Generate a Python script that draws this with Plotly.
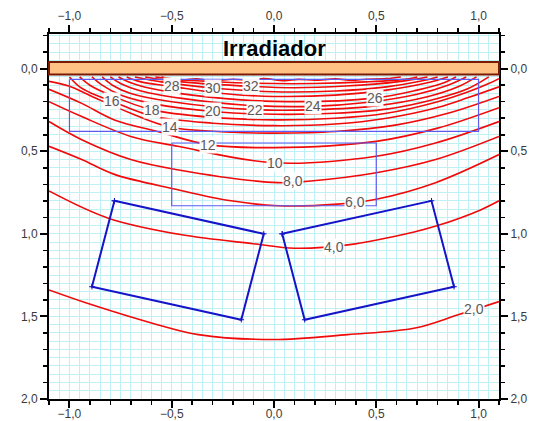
import plotly.graph_objects as go

# ---------------- data ----------------
levels = [2, 4, 6, 8, 10, 12, 14, 16, 18, 20, 22, 24, 26, 28, 30, 32, 34, 36]

contour_x = {
    2:  [-1.1, -0.89, -0.57, -0.37, 0.0, 0.36, 0.69, 0.9, 1.1],
    4:  [-1.1, -0.81, -0.45, -0.1, 0.1, 0.36, 0.68, 0.8, 1.01, 1.1],
    6:  [-1.1, -0.94, -0.78, -0.48, -0.21, 0.02, 0.31, 0.5, 0.79, 1.1],
    8:  [-1.1, -0.94, -0.70, -0.48, 0.02, 0.18, 0.5, 0.79, 1.1],
    10: [-1.1, -0.94, -0.70, -0.47, 0.0, 0.5, 0.79, 1.1],
    12: [-1.1, -0.94, -0.78, -0.57, -0.32, 0.0, 0.5, 0.8, 1.1],
    14: [-1.1, -1.0, -0.89, -0.70, -0.51, -0.2, 0.0, 0.3, 0.6, 0.85, 1.1],
    16: [-1.0, -0.95, -0.89, -0.79, -0.6, -0.3, 0.0, 0.3, 0.55, 0.8, 0.95, 1.1],
    18: [-0.95, -0.9, -0.8, -0.6, -0.3, 0.0, 0.3, 0.55, 0.8, 0.95, 1.05, 1.1],
    20: [-0.89, -0.84, -0.75, -0.6, -0.3, 0.0, 0.3, 0.55, 0.8, 0.95, 1.05],
    22: [-0.84, -0.79, -0.7, -0.5, -0.09, 0.2, 0.5, 0.75, 0.9, 0.99],
    24: [-0.80, -0.75, -0.65, -0.45, -0.15, 0.19, 0.45, 0.7, 0.85, 0.94],
    26: [-0.76, -0.7, -0.6, -0.4, 0.0, 0.49, 0.7, 0.82, 0.89],
    28: [-0.72, -0.65, -0.5, -0.25, 0.0, 0.3, 0.55, 0.75, 0.85],
    30: [-0.68, -0.55, -0.3, 0.0, 0.3, 0.55, 0.72, 0.80],
    32: [-0.63, -0.45, -0.11, 0.1, 0.35, 0.6, 0.75],
    34: [-0.58, -0.4, -0.1, 0.2, 0.45, 0.65, 0.70],
    36: [-0.55, -0.45, -0.38, -0.3, -0.2, -0.12, -0.05, 0.05, 0.12, 0.2, 0.3, 0.38, 0.45, 0.55, 0.62],
}
contour_y = {
    2:  [1.34, 1.43, 1.55, 1.61, 1.64, 1.61, 1.57, 1.49, 1.41],
    4:  [0.74, 0.905, 1.006, 1.06, 1.087, 1.067, 0.99, 0.95, 0.855, 0.80],
    6:  [0.47, 0.55, 0.64, 0.73, 0.80, 0.83, 0.82, 0.79, 0.69, 0.52],
    8:  [0.32, 0.43, 0.55, 0.61, 0.69, 0.68, 0.63, 0.55, 0.41],
    10: [0.20, 0.29, 0.41, 0.47, 0.57, 0.53, 0.45, 0.32],
    12: [0.125, 0.21, 0.31, 0.38, 0.46, 0.478, 0.44, 0.36, 0.236],
    14: [0.077, 0.107, 0.168, 0.27, 0.353, 0.385, 0.39, 0.38, 0.34, 0.27, 0.168],
    16: [0.05, 0.11, 0.15, 0.198, 0.285, 0.33, 0.345, 0.335, 0.30, 0.235, 0.175, 0.11],
    18: [0.05, 0.10, 0.16, 0.248, 0.295, 0.31, 0.30, 0.27, 0.20, 0.14, 0.09, 0.06],
    20: [0.05, 0.10, 0.16, 0.21, 0.259, 0.276, 0.27, 0.245, 0.18, 0.12, 0.05],
    22: [0.05, 0.10, 0.15, 0.20, 0.248, 0.248, 0.225, 0.17, 0.11, 0.05],
    24: [0.05, 0.09, 0.135, 0.18, 0.22, 0.228, 0.205, 0.155, 0.10, 0.05],
    26: [0.05, 0.085, 0.12, 0.16, 0.198, 0.178, 0.13, 0.09, 0.05],
    28: [0.05, 0.08, 0.107, 0.15, 0.168, 0.16, 0.13, 0.085, 0.05],
    30: [0.05, 0.08, 0.117, 0.14, 0.135, 0.11, 0.075, 0.05],
    32: [0.05, 0.08, 0.107, 0.115, 0.105, 0.08, 0.05],
    34: [0.05, 0.072, 0.088, 0.09, 0.08, 0.063, 0.05],
    36: [0.05, 0.068, 0.062, 0.072, 0.064, 0.07, 0.06, 0.073, 0.065, 0.07, 0.062, 0.07, 0.064, 0.06, 0.05],
}

# contour labels (level, position of the label)
label_levels = [2, 4, 6, 8, 10, 12, 14, 16, 18, 20, 22, 24, 26, 28, 30, 32]
label_x = [0.976, 0.293, 0.395, 0.094, 0.005, -0.322, -0.509, -0.794, -0.598, -0.298, -0.094, 0.192, 0.493, -0.501, -0.298, -0.111]
label_y = [1.455, 1.08, 0.81, 0.683, 0.572, 0.46, 0.353, 0.198, 0.248, 0.259, 0.248, 0.228, 0.178, 0.107, 0.117, 0.107]

# measurement regions (thin blue rectangles)
rect_a_x = [-1.0, 1.0, 1.0, -1.0, -1.0]
rect_a_y = [0.065, 0.065, 0.38, 0.38, 0.065]
rect_b_x = [-0.5, 0.5, 0.5, -0.5, -0.5]
rect_b_y = [0.45, 0.45, 0.83, 0.83, 0.45]

# tilted boxes (dark blue)
box_left_x = [-0.78, -0.05, -0.16, -0.89, -0.78]
box_left_y = [0.80, 1.00, 1.52, 1.32, 0.80]
box_right_x = [0.04, 0.77, 0.88, 0.15, 0.04]
box_right_y = [1.00, 0.80, 1.32, 1.52, 1.00]

x_ticks = [-1.0, -0.5, 0.0, 0.5, 1.0]
y_ticks = [0.0, 0.5, 1.0, 1.5, 2.0]
x_range = [-1.1, 1.1]
y_range = [2.0, -0.21]

# ---------------- figure ----------------
RED = "#f00a0a"
fig = go.Figure()

for lv in levels:
    fig.add_trace(go.Scatter(
        x=contour_x[lv], y=contour_y[lv], mode="lines",
        line=dict(color=RED, width=1.6, shape="spline", smoothing=1.0),
        hoverinfo="skip", showlegend=False))

for xs, ys in [(rect_a_x, rect_a_y), (rect_b_x, rect_b_y)]:
    fig.add_trace(go.Scatter(x=xs, y=ys, mode="lines",
                             line=dict(color="#5c5cf2", width=1.2),
                             hoverinfo="skip", showlegend=False))

for xs, ys in [(box_left_x, box_left_y), (box_right_x, box_right_y)]:
    fig.add_trace(go.Scatter(x=xs, y=ys, mode="lines+markers",
                             line=dict(color="#1414c8", width=2),
                             marker=dict(symbol="cross-thin", size=4,
                                         line=dict(color="#1414c8", width=1)),
                             hoverinfo="skip", showlegend=False))

# invisible traces so that the mirrored axes are drawn
fig.add_trace(go.Scatter(x=x_range, y=[1, 1], xaxis="x2", yaxis="y",
                         mode="lines", line=dict(width=0), opacity=0,
                         hoverinfo="skip", showlegend=False))
fig.add_trace(go.Scatter(x=[0, 0], y=[0, 2], xaxis="x", yaxis="y2",
                         mode="lines", line=dict(width=0), opacity=0,
                         hoverinfo="skip", showlegend=False))

def fmt(v):
    return f"{v},0" if v < 10 else f"{v}"

for lv, lx, ly in zip(label_levels, label_x, label_y):
    fig.add_annotation(x=lx, y=ly, text=fmt(lv), showarrow=False,
                       font=dict(family="Liberation Sans, Arial", size=14, color="#5a5a5a"),
                       bgcolor="rgba(255,255,255,0.95)", borderpad=0)

# irradiator bar
fig.add_shape(type="rect", xref="paper", x0=0, x1=1, yref="y", y0=-0.04, y1=0.035,
              fillcolor="#ffc184", line=dict(color="#7a1a05", width=2), layer="above")
fig.add_annotation(x=0.0, y=-0.12, text="<b>Irradiador</b>", showarrow=False,
                   font=dict(family="Liberation Sans, Arial", size=22, color="black"))

GRID = "#bff0f5"
tickfont = dict(family="Liberation Sans, Arial", size=12, color="#3a3a3a")
common_x = dict(range=x_range, tickvals=x_ticks, tickformat=".1f", tickfont=tickfont,
                zeroline=False, showline=True, linecolor="black", linewidth=2,
                ticks="outside", tickwidth=2, tickcolor="black", automargin=False)
common_y = dict(range=y_range, tickvals=y_ticks, tickformat=".1f", tickfont=tickfont,
                zeroline=False, showline=True, linecolor="black", linewidth=2,
                ticks="outside", ticklen=7, tickwidth=2, tickcolor="black", automargin=False)

fig.update_layout(
    width=534, height=421,
    margin=dict(l=49, r=35, t=34, b=22, autoexpand=False),
    paper_bgcolor="white", plot_bgcolor="white",
    separators=",.",
    showlegend=False,
    xaxis=dict(**common_x, side="bottom", ticklen=3, showgrid=True, gridcolor=GRID, gridwidth=1,
               minor=dict(dtick=0.05, showgrid=True, gridcolor=GRID, gridwidth=1, ticks="")),
    xaxis2=dict(**common_x, side="top", ticklen=7, overlaying="x", anchor="y", showgrid=False,
                mirror="allticks",
                minor=dict(dtick=0.1, ticks="outside", ticklen=4, tickwidth=1.5,
                           tickcolor="black", showgrid=False)),
    yaxis=dict(**common_y, side="left", showgrid=True, gridcolor=GRID, gridwidth=1,
               minor=dict(dtick=0.05, showgrid=True, gridcolor=GRID, gridwidth=1, ticks="")),
    yaxis2=dict(**common_y, side="right", overlaying="y", anchor="x", showgrid=False,
                mirror="allticks",
                minor=dict(dtick=0.1, ticks="outside", ticklen=4, tickwidth=1.5,
                           tickcolor="black", showgrid=False)),
)

fig.write_html("out.html",
               config={"displayModeBar": False, "staticPlot": True},
               post_script="document.body.style.margin='0';document.body.style.overflow='hidden';")
